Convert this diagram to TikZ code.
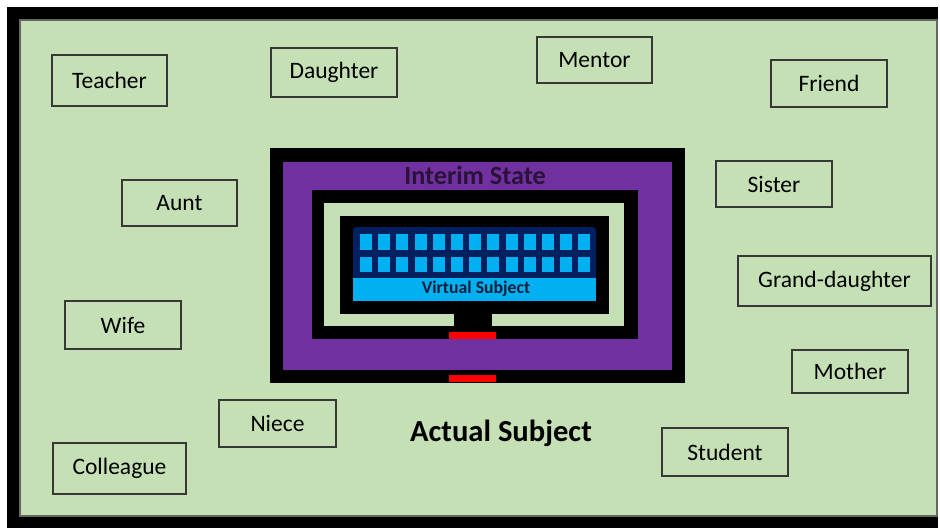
\documentclass[tikz,border=0pt]{standalone}
\usepackage{fontspec}
\setmainfont{Carlito}
\usetikzlibrary{positioning}
\definecolor{fondvert}{HTML}{C5E0B4}
\definecolor{interimpurple}{HTML}{7030A0}
\definecolor{screennavy}{HTML}{002060}
\definecolor{screencyan}{HTML}{00B0F0}
\definecolor{interimtext}{HTML}{2A1238}
\definecolor{virtualtext}{HTML}{0C1E3A}
\tikzset{
  rolebox/.style={draw=black!78, line width=0.9pt, minimum width=2.3cm,
    minimum height=0.94cm, inner sep=0pt, font=\fontsize{13.4}{16}\selectfont}
}

\begin{document}
\begin{tikzpicture}[x=0.02cm,y=-0.02cm]
    \useasboundingbox (0,0) rectangle (940,528);

    % Cadre
    \fill (7,7) rectangle (938,528);
    \fill[fondvert, draw=black!60, line width=0.6pt] (20,20) rectangle (937,516);

    % Roles
    \node[rolebox, minimum height=1.02cm] (teacher) at (109.5,80.5) {Teacher};
    \node[rolebox, minimum width=2.52cm, minimum height=0.98cm] (daughter) at (334,72.5) {Daughter};
    \node[rolebox, minimum height=0.92cm] (mentor) at (594.5,60) {Mentor};
    \node[rolebox, minimum width=2.32cm] (friend) at (829,83.5) {Friend};
    \node[rolebox, minimum height=0.92cm] (aunt) at (179.5,203) {Aunt};
    \node[rolebox, minimum width=2.32cm, minimum height=0.92cm] (sister) at (774,184) {Sister};
    \node[rolebox, minimum width=3.86cm, minimum height=1.0cm] (granddaughter) at (834.5,281) {Grand-daughter};
    \node[rolebox, minimum width=2.32cm, minimum height=0.96cm] (wife) at (123,325) {Wife};
    \node[rolebox, minimum width=2.32cm, minimum height=0.86cm] (mother) at (850,371.5) {Mother};
    \node[rolebox, minimum width=2.52cm, minimum height=0.96cm] (student) at (725,452) {Student};
    \node[rolebox, minimum width=2.34cm] (niece) at (277.5,423.5) {Niece};
    \node[rolebox, minimum width=2.66cm, minimum height=1.02cm] (colleague) at (119.5,468.5) {Colleague};

    % Etat intermediaire
    \fill (270,148) rectangle (685,383);
    \fill[interimpurple] (283,162) rectangle (672,370);
    \fill (312,190) rectangle (638,339);
    \fill[fondvert] (324,203) rectangle (624,326);
    \fill (340,216) rectangle (609,314);
    \fill (454,313) rectangle (492,327);
    \fill[red] (449,332) rectangle (496,339);
    \fill[red] (449,375) rectangle (496,382);

    % Ecran
    \fill[screennavy, rounded corners=2] (353,227) rectangle (596,301);
    \fill[screencyan] (353,278) rectangle (596,301);
    \foreach \i in {0,...,12} {
        \fill[screencyan] ({360+18.2*\i},234) rectangle ++(12,16);
        \fill[screencyan] ({360+18.2*\i},257) rectangle ++(12,15);
    }

    % Textes
    \node[font=\bfseries\fontsize{14.9}{18}\selectfont, text=interimtext] (interim) at (475,175) {Interim State};
    \node[font=\bfseries\fontsize{10.1}{12}\selectfont, text=virtualtext] (virtual) at (476,289) {Virtual Subject};
    \node[font=\bfseries\fontsize{17.4}{20}\selectfont] (actual) at (501,433) {Actual Subject};
\end{tikzpicture}
\end{document}
